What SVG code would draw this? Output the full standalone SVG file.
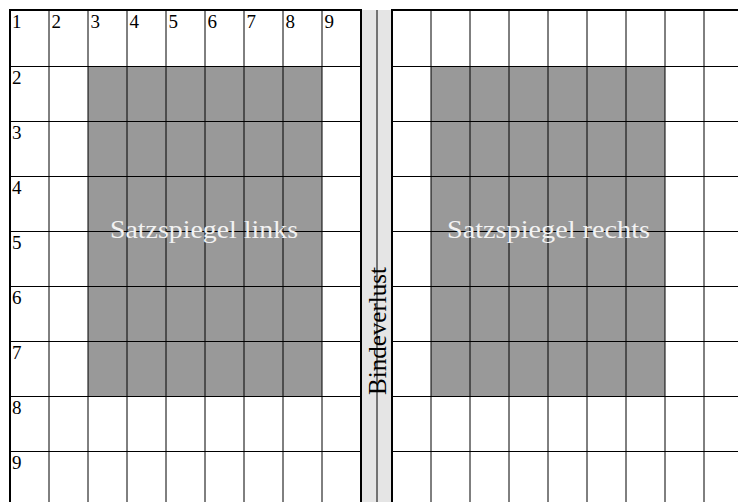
<svg xmlns="http://www.w3.org/2000/svg" width="738" height="502" viewBox="0 0 738 502">
<style>
.bg{fill:#ffffff}
.gutter{fill:#e5e5e5}
.area{fill:#999999}
.g{stroke:#000;stroke-width:1;fill:none}
.b{stroke:#000;stroke-width:2;fill:none}
.lbl{font-family:"Liberation Serif","DejaVu Serif",serif;font-size:19px;fill:#000}
.big{font-family:"Liberation Serif","DejaVu Serif",serif;font-size:26px;fill:#f2f2f2}
.bind{font-family:"Liberation Serif","DejaVu Serif",serif;font-size:26px;fill:#000}
</style>
<rect class="bg" x="0" y="0" width="738" height="502"/>
<g id="gutter">
<rect class="gutter" x="361" y="10" width="31" height="492"/>
<line class="g" x1="377" y1="10" x2="377" y2="502"/>
<text class="bind" transform="translate(386,395) rotate(-90)" textLength="128" lengthAdjust="spacingAndGlyphs">Bindeverlust</text>
</g>
<g id="satzspiegel-links">
<rect class="area" x="88" y="66" width="234" height="330"/>
</g>
<g id="satzspiegel-rechts">
<rect class="area" x="431" y="66" width="234" height="330"/>
</g>
<g id="grid-links">
<path class="g" d="M49 10V502M88 10V502M127 10V502M166 10V502M205 10V502M244 10V502M283 10V502M322 10V502"/>
<path class="g" d="M10 66.5H361M10 121.5H361M10 176.5H361M10 231.5H361M10 286.5H361M10 341.5H361M10 396.5H361M10 451.5H361"/>
<path class="b" d="M10 502V10H361V502"/>
</g>
<g id="grid-rechts">
<path class="g" d="M431 10V502M470 10V502M509 10V502M548 10V502M587 10V502M626 10V502M665 10V502M704 10V502"/>
<path class="g" d="M392 66.5H738M392 121.5H738M392 176.5H738M392 231.5H738M392 286.5H738M392 341.5H738M392 396.5H738M392 451.5H738"/>
<path class="b" d="M392 502V10H738"/>
</g>
<g id="labels">
<text class="lbl" x="12" y="27.5">1</text>
<text class="lbl" x="51.5" y="27.5">2</text>
<text class="lbl" x="90.5" y="27.5">3</text>
<text class="lbl" x="129.5" y="27.5">4</text>
<text class="lbl" x="168.5" y="27.5">5</text>
<text class="lbl" x="207.5" y="27.5">6</text>
<text class="lbl" x="246.5" y="27.5">7</text>
<text class="lbl" x="285.5" y="27.5">8</text>
<text class="lbl" x="324.5" y="27.5">9</text>
<text class="lbl" x="12" y="83.5">2</text>
<text class="lbl" x="12" y="138.5">3</text>
<text class="lbl" x="12" y="193.5">4</text>
<text class="lbl" x="12" y="248.5">5</text>
<text class="lbl" x="12" y="303.5">6</text>
<text class="lbl" x="12" y="358.5">7</text>
<text class="lbl" x="12" y="413.5">8</text>
<text class="lbl" x="12" y="468.5">9</text>
</g>
<g id="texts">
<text class="big" x="110" y="238" textLength="188" lengthAdjust="spacingAndGlyphs">Satzspiegel links</text>
<text class="big" x="447" y="238" textLength="203" lengthAdjust="spacingAndGlyphs">Satzspiegel rechts</text>
</g>
</svg>
